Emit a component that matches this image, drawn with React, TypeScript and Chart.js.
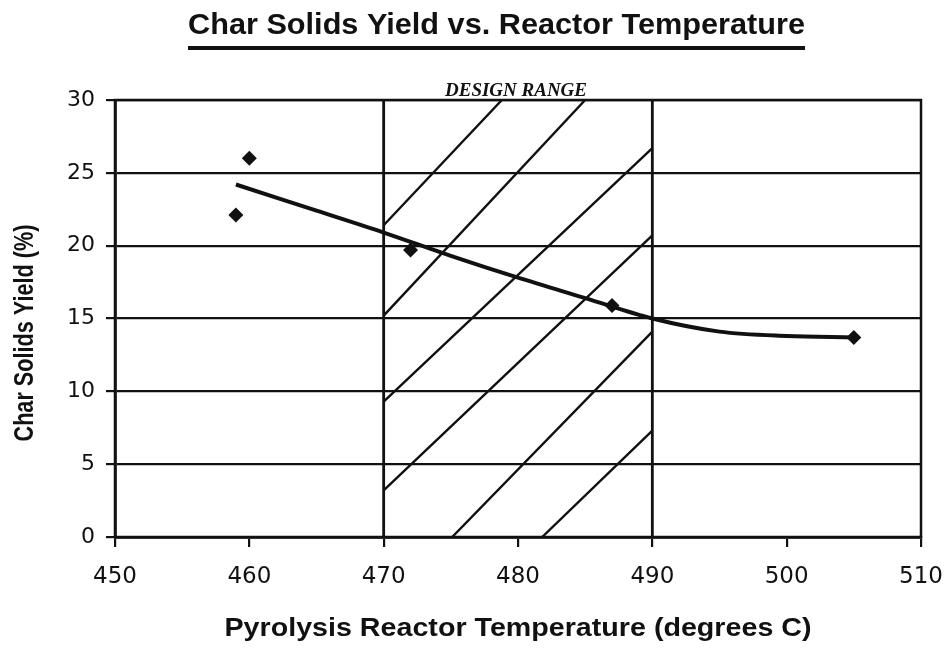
import React, { useEffect, useRef } from "react";
import { Chart, registerables } from "chart.js";

Chart.register(...registerables);

// ---- data ----
const title = "Char Solids Yield vs. Reactor Temperature";
const xTitle = "Pyrolysis Reactor Temperature (degrees C)";
const yTitle = "Char Solids Yield (%)";
const designLabel = "DESIGN RANGE";

const measuredTemps = [459, 460, 472, 487, 505];
const measuredYields = [22.1, 26.0, 19.7, 15.9, 13.7];

const trendTemps = [459, 465, 470, 475, 480, 485, 490, 495, 500, 505];
const trendYields = [24.2, 22.4, 20.9, 19.3, 17.8, 16.4, 15.0, 14.1, 13.8, 13.7];

const designRange = [470, 490];
const designBottom = 0;
const designTop = 30;

const hatchStartX = [470, 470, 470, 470, 475.1, 481.8];
const hatchStartY = [21.4, 15.2, 9.3, 3.2, 0, 0];
const hatchEndX = [478.8, 485.0, 490, 490, 490, 490];
const hatchEndY = [30, 30, 26.7, 20.7, 14.1, 7.3];

const xTicks = [450, 460, 470, 480, 490, 500, 510];
const yTicks = [0, 5, 10, 15, 20, 25, 30];

const INK = "#111111";

function drawFitted(
  ctx: CanvasRenderingContext2D,
  text: string,
  cx: number,
  cy: number,
  targetW: number,
  font: string
) {
  ctx.save();
  ctx.font = font;
  const w = ctx.measureText(text).width;
  ctx.translate(cx, cy);
  ctx.scale(targetW / w, 1);
  ctx.textAlign = "center";
  ctx.textBaseline = "alphabetic";
  ctx.fillStyle = INK;
  ctx.fillText(text, 0, 0);
  ctx.restore();
}

const decorPlugin = {
  id: "decor",
  beforeDraw(chart: any) {
    const { ctx, width, height } = chart;
    ctx.save();
    ctx.fillStyle = "#ffffff";
    ctx.fillRect(0, 0, width, height);
    ctx.restore();
  },
  afterDraw(chart: any) {
    const { ctx, chartArea, scales } = chart;
    // frame
    ctx.save();
    ctx.strokeStyle = INK;
    ctx.lineWidth = 2.5;
    ctx.strokeRect(
      chartArea.left,
      chartArea.top,
      chartArea.right - chartArea.left,
      chartArea.bottom - chartArea.top
    );
    ctx.restore();

    // main title + underline
    drawFitted(ctx, title, 496.5, 34, 617, "bold 29px 'Liberation Sans', Arial, sans-serif");
    ctx.save();
    ctx.strokeStyle = INK;
    ctx.lineWidth = 4;
    ctx.beginPath();
    ctx.moveTo(188, 48);
    ctx.lineTo(805, 48);
    ctx.stroke();
    ctx.restore();

    // x title
    drawFitted(ctx, xTitle, 518, 636, 587, "bold 25px 'Liberation Sans', Arial, sans-serif");

    // y title
    ctx.save();
    ctx.translate(33, 333);
    ctx.rotate(-Math.PI / 2);
    drawFitted(ctx, yTitle, 0, 0, 217, "bold 27px 'Liberation Sans', Arial, sans-serif");
    ctx.restore();

    // design range label
    const cx = (scales.x.getPixelForValue(designRange[0]) + scales.x.getPixelForValue(designRange[1])) / 2;
    drawFitted(ctx, designLabel, cx - 2, chartArea.top - 4, 142, "italic bold 19px 'Liberation Serif', 'Times New Roman', serif");
  },
};

export default function App() {
  const ref = useRef<HTMLCanvasElement | null>(null);

  useEffect(() => {
    document.body.style.margin = "0";
    const canvas = ref.current;
    if (!canvas) return;

    const hatchData: any[] = [];
    for (let i = 0; i < hatchStartX.length; i++) {
      hatchData.push({ x: hatchStartX[i], y: hatchStartY[i] });
      hatchData.push({ x: hatchEndX[i], y: hatchEndY[i] });
      hatchData.push({ x: hatchEndX[i], y: null });
    }
    const boxData: any[] = [
      { x: designRange[0], y: designBottom },
      { x: designRange[0], y: designTop },
      { x: designRange[0], y: null },
      { x: designRange[1], y: designBottom },
      { x: designRange[1], y: designTop },
    ];

    const chart = new Chart(canvas, {
      type: "scatter",
      data: {
        datasets: [
          {
            label: "Measured",
            data: measuredTemps.map((t, i) => ({ x: t, y: measuredYields[i] })),
            showLine: false,
            pointStyle: "rectRot",
            pointRadius: 7.5,
            backgroundColor: INK,
            borderColor: INK,
            borderWidth: 0,
            order: 0,
          },
          {
            label: "Trend",
            data: trendTemps.map((t, i) => ({ x: t, y: trendYields[i] })),
            showLine: true,
            pointRadius: 0,
            borderColor: INK,
            borderWidth: 4,
            cubicInterpolationMode: "monotone",
            order: 1,
          } as any,
          {
            label: "Design range",
            data: boxData,
            showLine: true,
            spanGaps: false,
            pointRadius: 0,
            borderColor: INK,
            borderWidth: 2.8,
            order: 2,
          } as any,
          {
            label: "Hatch",
            data: hatchData,
            showLine: true,
            spanGaps: false,
            pointRadius: 0,
            borderColor: INK,
            borderWidth: 2.4,
            order: 3,
          } as any,
        ],
      },
      options: {
        animation: false,
        responsive: false,
        events: [],
        layout: { padding: { top: 100, right: 30, left: 0, bottom: 0 } },
        plugins: {
          legend: { display: false },
          tooltip: { enabled: false },
          title: { display: false },
        },
        scales: {
          x: {
            type: "linear",
            min: 450,
            max: 510,
            afterBuildTicks: (s: any) => {
              s.ticks = xTicks.map((v) => ({ value: v }));
            },
            afterFit: (s: any) => {
              s.height = 112;
              s.paddingLeft = 0;
              s.paddingRight = 0;
            },
            grid: {
              drawOnChartArea: false,
              drawTicks: true,
              tickLength: 10,
              color: INK,
              lineWidth: 2.2,
            },
            border: { display: true, color: INK, width: 2.8 },
            ticks: {
              color: INK,
              padding: 16,
              maxRotation: 0,
              autoSkip: false,
              font: { family: "'DejaVu Sans', sans-serif", size: 23 },
            },
          },
          y: {
            type: "linear",
            min: 0,
            max: 30,
            afterBuildTicks: (s: any) => {
              s.ticks = yTicks.map((v) => ({ value: v }));
            },
            afterFit: (s: any) => {
              s.width = 115;
              s.paddingTop = 0;
              s.paddingBottom = 0;
            },
            grid: {
              drawOnChartArea: true,
              drawTicks: true,
              tickLength: 9,
              color: INK,
              lineWidth: 2.2,
            },
            border: { display: true, color: INK, width: 2.8 },
            ticks: {
              color: INK,
              padding: 11,
              autoSkip: false,
              font: { family: "'DejaVu Sans', sans-serif", size: 22 },
            },
          },
        },
      },
      plugins: [decorPlugin],
    });

    return () => chart.destroy();
  }, []);

  return (
    <div style={{ width: 951, height: 649 }}>
      <canvas ref={ref} width={951} height={649} style={{ display: "block" }} />
    </div>
  );
}
